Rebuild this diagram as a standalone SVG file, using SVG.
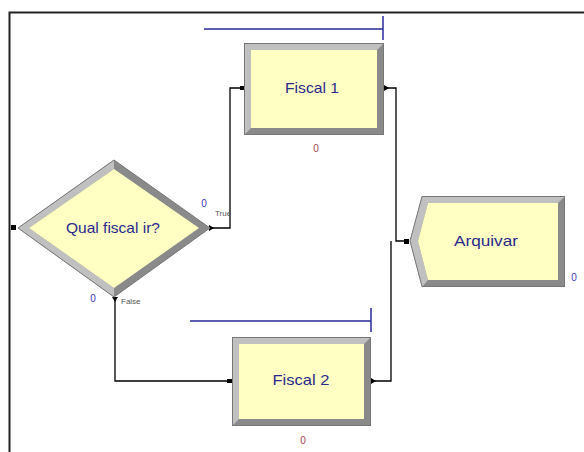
<svg xmlns="http://www.w3.org/2000/svg" width="584" height="452" viewBox="0 0 584 452">
<defs>
<style>
.lbl{font-family:"Liberation Sans",Arial,sans-serif;font-size:15px;fill:#2a2a8a;text-anchor:middle}
.cnt{font-family:"Liberation Sans",Arial,sans-serif;font-size:10px;text-anchor:middle}
.small{font-family:"Liberation Sans",Arial,sans-serif;font-size:8px;fill:#555}
.conn{fill:none;stroke:#000;stroke-width:1.3}
.fill{fill:#FFFFC4}
.light{fill:#c0c0c0}
.dark{fill:#8a8a8a}
.edge{fill:none;stroke:#777;stroke-width:1}
.res{fill:none;stroke:#2a2a9a;stroke-width:1.5}
</style>
</defs>
<rect width="584" height="452" fill="#fff"/>
<!-- frame -->
<path d="M9.5 452 V12.5 H584" fill="none" stroke="#222" stroke-width="2"/>

<g id="connectors">
<path class="conn" d="M212 228 H230 V88 H243"/>
<path class="conn" d="M115 298 V381 H230"/>
<path class="conn" d="M385 88 H396 V241 H407"/>
<path class="conn" d="M373 381 H391 V241"/>
<rect x="240" y="86" width="4" height="4" fill="#000"/>
<rect x="227" y="379" width="5" height="4" fill="#000"/>
<rect x="404" y="239" width="5" height="5" fill="#000"/>
<rect x="11" y="225" width="5" height="5" fill="#000"/>
<polygon points="209,225 214,228 209,231" fill="#000"/>
<polygon points="384,85 389,88 384,91" fill="#000"/>
<polygon points="371,378 376,381 371,384" fill="#000"/>
<polygon points="112,297 118,297 115,302" fill="#000"/>
<text class="small" x="215" y="216">True</text>
<text class="small" x="121" y="304">False</text>
</g>

<g id="decide">
<polygon class="dark" points="18,228 114,160 210,228 114,297"/>
<polygon class="light" points="18,228 114,160 114,169 29,228 114,288 114,297"/>
<polygon class="fill" points="29,228 114,169 199,228 114,288"/>
<polygon class="edge" points="18,228 114,160 210,228 114,297"/>
<text class="lbl" x="113" y="233" textLength="94" lengthAdjust="spacingAndGlyphs">Qual fiscal ir?</text>
<text class="cnt" x="204" y="207" fill="#3a3ac0">0</text>
<text class="cnt" x="93" y="302" fill="#3a3ac0">0</text>
</g>

<g id="fiscal1">
<path class="res" d="M204 29 H383 M383 16 V40"/>
<rect class="dark" x="244" y="43" width="140" height="92"/>
<polygon class="light" points="244,43 384,43 377,50 251,50 251,128 244,135"/>
<rect class="fill" x="251" y="50" width="126" height="78"/>
<rect class="edge" x="244.5" y="43.5" width="139" height="91"/>
<text class="lbl" x="312" y="93" textLength="54" lengthAdjust="spacingAndGlyphs">Fiscal 1</text>
<text class="cnt" x="316" y="152" fill="#a04848">0</text>
</g>

<g id="fiscal2">
<path class="res" d="M190 321 H371 M371 308 V332"/>
<rect class="dark" x="232" y="337" width="139" height="89"/>
<polygon class="light" points="232,337 371,337 364,344 239,344 239,419 232,426"/>
<rect class="fill" x="239" y="344" width="125" height="75"/>
<rect class="edge" x="232.5" y="337.5" width="138" height="88"/>
<text class="lbl" x="301" y="385" textLength="57" lengthAdjust="spacingAndGlyphs">Fiscal 2</text>
<text class="cnt" x="303" y="444" fill="#a04848">0</text>
</g>

<g id="arquivar">
<polygon class="dark" points="422,196 565,196 565,287 422,287 410,241"/>
<polygon class="light" points="422,196 565,196 558,203 428,203 418,241 428,280 422,287 410,241"/>
<polygon class="fill" points="428,203 558,203 558,280 428,280 418,241"/>
<polygon class="edge" points="422,196.5 564.5,196.5 564.5,286.5 422,286.5 410,241"/>
<text class="lbl" x="486" y="246" textLength="64" lengthAdjust="spacingAndGlyphs">Arquivar</text>
<text class="cnt" x="574" y="281" fill="#3a3ac0">0</text>
</g>
</svg>
